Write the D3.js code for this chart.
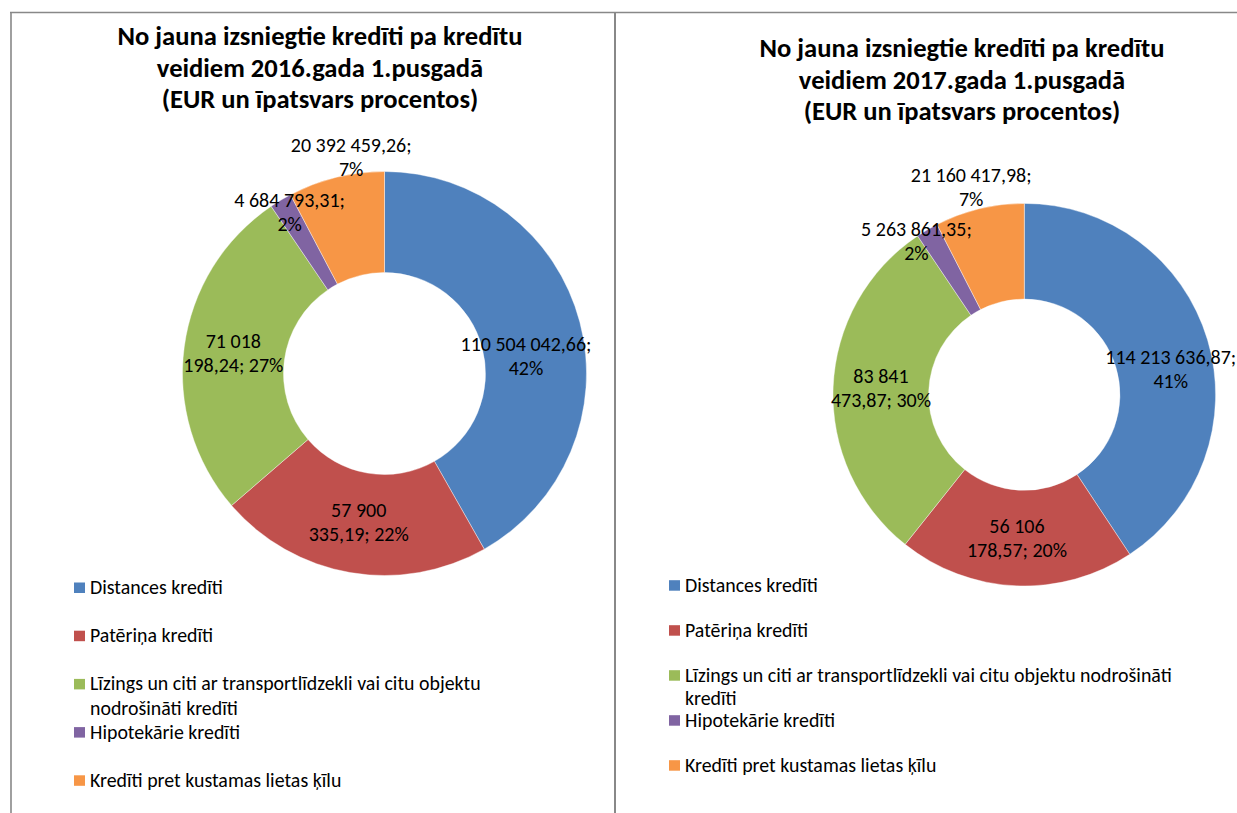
<!DOCTYPE html>
<html>
<head>
<meta charset="utf-8">
<script src="https://cdn.jsdelivr.net/npm/d3@7"></script>
<style>
	body { margin: 0; background: #fff; }
	svg { display: block; }
	text { font-family: Carlito, Lato, "Open Sans", sans-serif; fill: #000; }
</style>
</head>
<body>
<div id="chart"><svg></svg></div>
<script>
// data
var categories = [
	"Distances kredīti",
	"Patēriņa kredīti",
	"Līzings un citi ar transportlīdzekli vai citu objektu nodrošināti kredīti",
	"Hipotekārie kredīti",
	"Kredīti pret kustamas lietas ķīlu"
];
var values2016 = [110504042.66, 57900335.19, 71018198.24, 4684793.31, 20392459.26];
var values2017 = [114213636.87, 56106178.57, 83841473.87, 5263861.35, 21160417.98];
var pct2016 = [42, 22, 27, 2, 7];
var pct2017 = [41, 20, 30, 2, 7];
var title2016 = ["No jauna izsniegtie kredīti pa kredītu", "veidiem 2016.gada 1.pusgadā", "(EUR un īpatsvars procentos)"];
var title2017 = ["No jauna izsniegtie kredīti pa kredītu", "veidiem 2017.gada 1.pusgadā", "(EUR un īpatsvars procentos)"];
var colors = ["#4F81BD", "#C0504D", "#9BBB59", "#8064A2", "#F79646"];

// layout of each panel
var panels = [
	{ values: values2016, pct: pct2016, title: title2016, cx: 384.5, cy: 373.5, R: 202, tx: 320, ty: 45,
	  labelOff: [[-5, 22], [0, 0], [-1, 0], [-17, -31], [3, -69]],
	  labelWrap: [150, 106, 106, 122, 136],
	  legX: 74, legY: 594, legStep: 48.2, legLine: 24.3, legWrap: 420 },
	{ values: values2017, pct: pct2017, title: title2017, cx: 1024.3, cy: 394.7, R: 191.3, tx: 962, ty: 57,
	  labelOff: [[9, 16], [-1, 0], [0, 0], [-35, -30], [-19.5, -67.5]],
	  labelWrap: [150, 106, 106, 122, 136],
	  legX: 669, legY: 591.7, legStep: 45, legLine: 23.3, legWrap: 515 }
];

var W = 1237, H = 813;
var svg = d3.select("#chart").select("svg")
	.attr("width", W)
	.attr("height", H);

// font size that gives a sample string the width it has in the picture
function fitSize(str, target, weight) {
	var probe = svg.append("text")
		.style("font-size", "20px")
		.style("font-weight", weight)
		.text(str);
	var w = probe.node().getComputedTextLength();
	probe.remove();
	return 20 * target / w;
}
var titleSize = fitSize(title2016[0], 405, "bold");
var labelSize = fitSize("110 504 042,66;", 131, "normal");
var legSize = fitSize(categories[0], 133, "normal");

// frame lines
svg.append("line").attr("x1", 10).attr("x2", W).attr("y1", 12.5).attr("y2", 12.5)
	.attr("stroke", "#888").attr("stroke-width", 1.3);
svg.append("line").attr("x1", 11).attr("x2", 11).attr("y1", 12).attr("y2", H)
	.attr("stroke", "#888").attr("stroke-width", 1.6);
svg.append("line").attr("x1", 615).attr("x2", 615).attr("y1", 12).attr("y2", H)
	.attr("stroke", "#888").attr("stroke-width", 2);

var lv = d3.formatLocale({ decimal: ",", thousands: " ", grouping: [3], currency: ["", ""] });
var fmt = lv.format(",.2f");

var pie = d3.pie().sort(null).value(function(d) { return d; });

// greedy word wrap measured against real text width
function wrapLines(parent, str, maxW, size) {
	var probe = parent.append("text").style("font-size", size + "px");
	var words = str.split(" "), lines = [], cur = "";
	words.forEach(function(w) {
		var t = cur ? cur + " " + w : w;
		probe.text(t);
		if (cur && probe.node().getComputedTextLength() > maxW) {
			lines.push(cur);
			cur = w;
		} else cur = t;
	});
	lines.push(cur);
	probe.remove();
	return lines;
}

panels.forEach(function(p) {
	var g = svg.append("g");
	var arc = d3.arc().innerRadius(p.R / 2).outerRadius(p.R);
	var mid = d3.arc().innerRadius(p.R * 0.75).outerRadius(p.R * 0.75);
	var arcs = pie(p.values);

	// title
	g.append("text")
		.attr("text-anchor", "middle")
		.style("font-size", titleSize + "px")
		.style("font-weight", "bold")
		.selectAll("tspan")
		.data(p.title)
		.enter()
		.append("tspan")
		.attr("x", p.tx)
		.attr("y", function(d, i) { return p.ty + i * 31.5; })
		.text(function(d) { return d; });

	var ring = g.append("g").attr("transform", "translate(" + p.cx + "," + p.cy + ")");
	ring.selectAll("path")
		.data(arcs)
		.enter()
		.append("path")
		.attr("d", arc)
		.attr("fill", function(d, i) { return colors[i]; })
		.attr("stroke", "#fff")
		.attr("stroke-width", 0.4);

	// data labels
	arcs.forEach(function(a, i) {
		var c = mid.centroid(a);
		var txt = fmt(a.data) + "; " + p.pct[i] + "%";
		var lines = wrapLines(ring, txt, p.labelWrap[i], labelSize);
		var x = c[0] + p.labelOff[i][0];
		var y0 = c[1] + p.labelOff[i][1] - (lines.length - 1) * 24 / 2 + 6.5;
		ring.append("text")
			.attr("text-anchor", "middle")
			.style("font-size", labelSize + "px")
			.selectAll("tspan")
			.data(lines)
			.enter()
			.append("tspan")
			.attr("x", x)
			.attr("y", function(d, k) { return y0 + k * 24; })
			.text(function(d) { return d; });
	});

	// legend
	var leg = g.append("g");
	categories.forEach(function(name, i) {
		var by = p.legY + i * p.legStep;
		leg.append("rect")
			.attr("x", p.legX)
			.attr("y", by - 11.5)
			.attr("width", 11)
			.attr("height", 10.5)
			.attr("fill", colors[i]);
		var lines = wrapLines(leg, name, p.legWrap, legSize);
		leg.append("text")
			.style("font-size", legSize + "px")
			.selectAll("tspan")
			.data(lines)
			.enter()
			.append("tspan")
			.attr("x", p.legX + 16)
			.attr("y", function(d, k) { return by + k * p.legLine; })
			.text(function(d) { return d; });
	});
});
</script>
</body>
</html>
